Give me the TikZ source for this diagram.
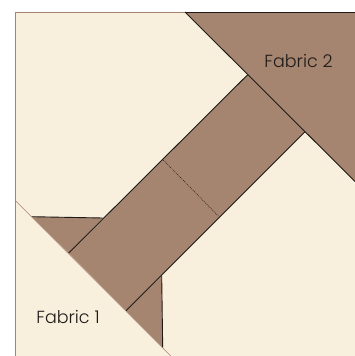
\documentclass[tikz,border=0pt]{standalone}
\usepackage{fontspec}
\setmainfont{Poppins Light}
\definecolor{cream}{HTML}{F8F0DC}
\definecolor{fabric}{HTML}{A68570}
\definecolor{ink}{HTML}{1E1A18}
\tikzset{
  seam/.style={draw=ink,line width=0.9pt},
  patch/.style={fill=fabric},
  lbl/.style={font=\fontsize{17.5}{20}\selectfont,text=ink,inner sep=0pt,anchor=center},
}
\begin{document}
\begin{tikzpicture}[x=1pt,y=-1pt]
\useasboundingbox (0,0) rectangle (355,356);
\fill[white] (0,0) rectangle (355,356);
\fill[cream] (15.5,12) rectangle (355,356);
\draw[fabric,line width=0.5pt] (15.5,356) -- (15.5,12) -- (185,12);
\fill[patch] (185,12) -- (355,12) -- (355,181.5) -- cycle;
\fill[patch] (247.7,74.7) -- (305,131.7) -- (126,310.7) -- (68.7,253) -- cycle;
\fill[patch] (31.7,216.7) -- (102.7,218) -- (68.7,253) -- cycle;
\fill[patch] (161.7,276) -- (162.7,347.7) -- (126,310.7) -- cycle;
\draw[seam] (185,12) -- (355,12);
\draw[seam] (185,12) -- (355,181.5);
\draw[seam] (247.7,74.7) -- (68.7,253);
\draw[seam] (305,131.7) -- (126,310.7);
\draw[seam] (31.7,216.7) -- (102.7,218);
\draw[seam] (161.7,276) -- (162.7,347.7);
\draw[fabric,line width=0.5pt] (15.5,200.7) -- (170.7,356);
\draw[ink,line width=0.5pt,dash pattern=on 1pt off 1pt] (163.3,160) -- (218.3,216);
\node[lbl] (f1) at (68,317) {Fabric 1};
\node[lbl] (f2) at (298.5,61) {Fabric 2};
\end{tikzpicture}
\end{document}
